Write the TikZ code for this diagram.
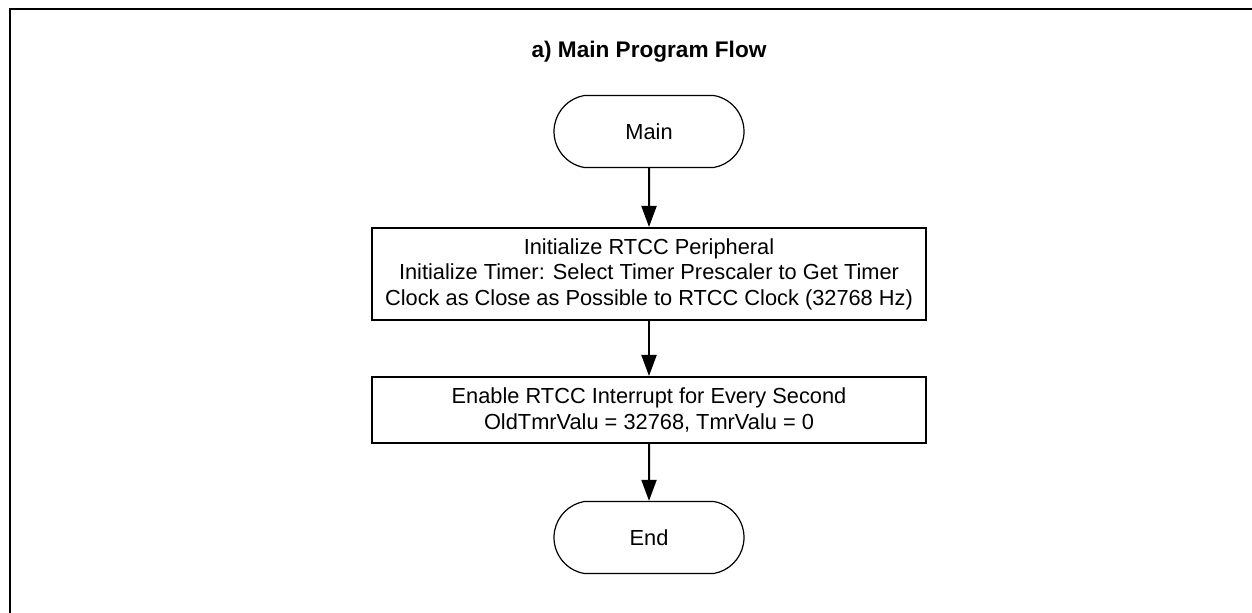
\documentclass[tikz,border=0pt]{standalone}
\usepackage{fontspec}
\setmainfont{Liberation Sans}
\usetikzlibrary{arrows.meta,shapes.misc}

\tikzset{
  flowbox/.style={draw,line width=1pt,minimum width=277pt,align=center,inner sep=0pt},
  termbox/.style={draw,line width=0.6pt,rounded rectangle,rounded rectangle arc length=160,
    minimum width=95pt,minimum height=36pt,inner sep=0pt},
  flowarrow/.style={line width=1pt,-{Triangle[length=10.5pt,width=7.5pt]}}
}

\begin{document}
\begin{tikzpicture}[x=0.5pt,y=-0.5pt,font=\fontsize{10.9}{12.8}\selectfont]
  \useasboundingbox (0,0) rectangle (1252,613);
  % outer frame, only top and left edges show
  \draw[line width=1pt] (10,613) -- (10,9) -- (1252,9);

  % title
  \node[font=\bfseries\fontsize{11.3}{13}\selectfont] (title) at (649,52) {a) Main Program Flow};

  % flow blocks
  \node[termbox] (main) at (649,131.5) {Main};
  \node[flowbox,minimum height=46pt] (init) at (649,274)
    {Initialize RTCC Peripheral\\
     Initialize Timer: Select Timer Prescaler to Get Timer\\
     Clock as Close as Possible to RTCC Clock (32768 Hz)};
  \node[flowbox,minimum height=33pt] (enable) at (649,410)
    {Enable RTCC Interrupt for Every Second\\
     OldTmrValu = 32768, TmrValu = 0};
  \node[termbox] (finish) at (649,537.5) {End};

  % connectors
  \draw[flowarrow] (main) -- (init);
  \draw[flowarrow] (init) -- (enable);
  \draw[flowarrow] (enable) -- (finish);
\end{tikzpicture}
\end{document}
